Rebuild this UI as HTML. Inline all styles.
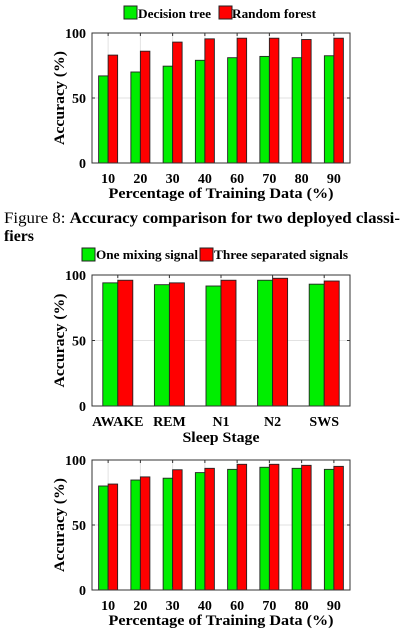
<!DOCTYPE html>
<html><head><meta charset="utf-8"><style>
html,body{margin:0;padding:0;background:#fff;}
svg{display:block;font-family:"Liberation Serif","Times New Roman",Times,serif;}
</style></head><body>
<svg id="s" width="405" height="635" viewBox="0 0 405 635">
<g>
<rect x="124" y="6" width="13" height="13" fill="#00ee00" stroke="#222"/>
<text x="138" y="18" font-size="13" font-weight="bold" textLength="73" lengthAdjust="spacingAndGlyphs">Decision tree</text>
<rect x="219" y="6" width="13" height="13" fill="#ff0000" stroke="#222"/>
<text x="232" y="18" font-size="13" font-weight="bold" textLength="84" lengthAdjust="spacingAndGlyphs">Random forest</text>
</g>
<text x="4" y="223" font-size="15.5" textLength="396" lengthAdjust="spacingAndGlyphs">Figure 8: <tspan font-weight="bold">Accuracy comparison for two deployed classi-</tspan></text>
<text x="4" y="241" font-size="15.5" font-weight="bold" textLength="30" lengthAdjust="spacingAndGlyphs">fiers</text>
<g>
<rect x="82" y="248" width="13" height="13" fill="#00ee00" stroke="#222"/>
<text x="96" y="259" font-size="13" font-weight="bold" textLength="102" lengthAdjust="spacingAndGlyphs">One mixing signal</text>
<rect x="200" y="248" width="13" height="13" fill="#ff0000" stroke="#222"/>
<text x="214" y="259" font-size="13" font-weight="bold" textLength="134" lengthAdjust="spacingAndGlyphs">Three separated signals</text>
</g>
</svg>
<script>
const cats1=["10","20","30","40","60","70","80","90"];
const dtVals=[67,70,74.5,79,81,82,81,82.5];
const rfVals=[83,86,93,95.5,96,96,95,96];
const cats2=["AWAKE","REM","N1","N2","SWS"];
const oneVals=[94,92.6,91.6,96,93];
const threeVals=[96,94,96,97.5,95.4];
const cats3=["10","20","30","40","60","70","80","90"];
const oneVals3=[80,84.6,86,90.3,92.8,94.4,93.6,92.8];
const threeVals3=[81.5,87,92.5,93.6,96.7,96.7,95.9,95.1];
const yTicks=[0,50,100];
const NS="http://www.w3.org/2000/svg";
const svg=document.getElementById('s');
function mk(tag,attrs,parent){const e=document.createElementNS(NS,tag);for(const k in attrs)e.setAttribute(k,attrs[k]);(parent||svg).appendChild(e);return e;}
function chart(id,top,bottom,cats,s1,s2,barW,xtitle,xtitleY,xtitleW){
  const L=92,R=350;
  const g=mk('g',{});
  
  
  const y=v=>bottom-(bottom-top)*v/100;
  const step=(R-L)/cats.length;
  const cx=i=>L+step*(i+0.5);
  cats.forEach((c,i)=>{const l=mk('line',{x1:cx(i),x2:cx(i),y1:top,y2:bottom,stroke:'#e2e2e2','stroke-width':1},g);
    
    });
  yTicks.forEach(t=>{if(t>0&&t<100){const l=mk('line',{x1:L,x2:R,y1:y(t),y2:y(t),stroke:'#e2e2e2','stroke-width':1},g);
    
    }});
  cats.forEach((c,i)=>{
    const b1=mk('rect',{x:cx(i)-barW,y:y(s1[i]),width:barW,height:bottom-y(s1[i]),fill:'#00ee00',stroke:'#222','stroke-width':0.9},g);
    
    
    const b2=mk('rect',{x:cx(i),y:y(s2[i]),width:barW,height:bottom-y(s2[i]),fill:'#ff0000',stroke:'#222','stroke-width':0.9},g);
    
    
    const t=mk('text',{x:cx(i),y:bottom+20,'font-size':14,'font-weight':'bold','text-anchor':'middle'},g);
    t.textContent=c;
    
    
    mk('line',{x1:cx(i),x2:cx(i),y1:bottom,y2:bottom-3,stroke:'#333'},g);
    mk('line',{x1:cx(i),x2:cx(i),y1:top,y2:top+3,stroke:'#333'},g);
  });
  const fr=mk('rect',{x:L,y:top,width:R-L,height:bottom-top,fill:'none',stroke:'#333','stroke-width':1},g);
  
  
  yTicks.forEach(tv=>{
    mk('line',{x1:L,x2:L+3,y1:y(tv),y2:y(tv),stroke:'#333'},g);
    mk('line',{x1:R,x2:R-3,y1:y(tv),y2:y(tv),stroke:'#333'},g);
    const t=mk('text',{x:86,y:y(tv)+5,'font-size':14,'font-weight':'bold','text-anchor':'end'},g);
    t.textContent=tv;
    
    
  });
  const my=(top+bottom)/2;
  const yt=mk('text',{x:0,y:0,'font-size':15,'font-weight':'bold','text-anchor':'middle',textLength:94,lengthAdjust:'spacingAndGlyphs',transform:`translate(64,${my}) rotate(-90)`},g);
  yt.textContent='Accuracy (%)';
  
  
  const xt=mk('text',{x:(L+R)/2,y:xtitleY,'font-size':15,'font-weight':'bold','text-anchor':'middle',textLength:xtitleW,lengthAdjust:'spacingAndGlyphs'},g);
  xt.textContent=xtitle;
  
  
}
chart('chart-classifier-accuracy',33,163,cats1,dtVals,rfVals,9.5,'Percentage of Training Data (%)',198,225);
chart('chart-sleep-stage-accuracy',275,406,cats2,oneVals,threeVals,15,'Sleep Stage',442,77);
chart('chart-signal-accuracy',460,590,cats3,oneVals3,threeVals3,9.5,'Percentage of Training Data (%)',625,225);
</script>
</body></html>
